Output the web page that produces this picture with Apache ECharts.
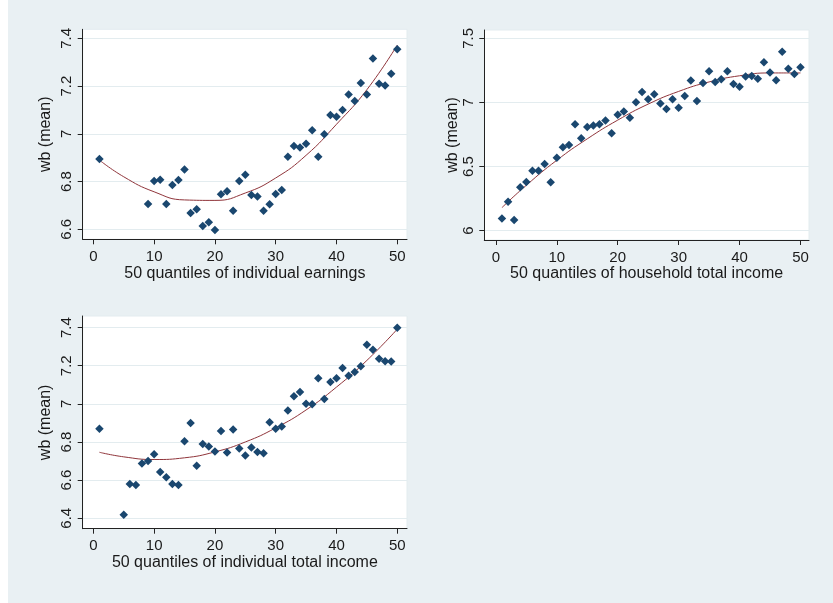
<!DOCTYPE html>
<html lang="en">
<head>
<meta charset="UTF-8">
<title>wb (mean) by quantiles</title>
<script src="https://cdn.jsdelivr.net/npm/echarts@6/dist/echarts.min.js"></script>
<style>
    html, body { margin: 0; padding: 0; background: #ffffff; }
    #main { position: absolute; left: 8px; top: 0; width: 825px; height: 603px; }
</style>
</head>
<body>
<div id="main"></div>
<script>
    // panel 1: individual earnings (quantiles 2-8 empty)
    var q1 = [1, 9, 10, 11, 12, 13, 14, 15, 16, 17, 18, 19, 20, 21, 22, 23, 24, 25, 26, 27, 28, 29,
        30, 31, 32, 33, 34, 35, 36, 37, 38, 39, 40, 41, 42, 43, 44, 45, 46, 47, 48, 49, 50];
    var wb1 = [6.895, 6.706, 6.802, 6.808, 6.706, 6.786, 6.807, 6.851, 6.668, 6.684, 6.614, 6.629,
        6.597, 6.747, 6.759, 6.678, 6.802, 6.829, 6.744, 6.737, 6.678, 6.705, 6.748, 6.765, 6.904,
        6.949, 6.943, 6.958, 7.015, 6.904, 6.998, 7.079, 7.072, 7.100, 7.165, 7.138, 7.213, 7.165,
        7.316, 7.210, 7.202, 7.252, 7.354];

    // panel 2: household total income
    var q2 = [1, 2, 3, 4, 5, 6, 7, 8, 9, 10, 11, 12, 13, 14, 15, 16, 17, 18, 19, 20, 21, 22, 23, 24,
        25, 26, 27, 28, 29, 30, 31, 32, 33, 34, 35, 36, 37, 38, 39, 40, 41, 42, 43, 44, 45, 46, 47,
        48, 49, 50];
    var wb2 = [6.094, 6.226, 6.083, 6.338, 6.380, 6.468, 6.468, 6.520, 6.377, 6.569, 6.650, 6.668,
        6.830, 6.720, 6.808, 6.820, 6.829, 6.860, 6.759, 6.903, 6.930, 6.880, 7.002, 7.081, 7.024,
        7.063, 6.992, 6.948, 7.024, 6.959, 7.050, 7.171, 7.011, 7.152, 7.243, 7.160, 7.181, 7.243,
        7.144, 7.122, 7.203, 7.206, 7.184, 7.313, 7.234, 7.174, 7.395, 7.262, 7.222, 7.274];

    // panel 3: individual total income (quantiles 2-4 empty)
    var q3 = [1, 5, 6, 7, 8, 9, 10, 11, 12, 13, 14, 15, 16, 17, 18, 19, 20, 21, 22, 23, 24, 25, 26,
        27, 28, 29, 30, 31, 32, 33, 34, 35, 36, 37, 38, 39, 40, 41, 42, 43, 44, 45, 46, 47, 48, 49, 50];
    var wb3 = [6.870, 6.418, 6.580, 6.574, 6.687, 6.700, 6.736, 6.642, 6.615, 6.580, 6.574, 6.804,
        6.899, 6.675, 6.790, 6.776, 6.750, 6.858, 6.745, 6.865, 6.766, 6.729, 6.771, 6.748, 6.741,
        6.903, 6.870, 6.881, 6.965, 7.040, 7.062, 7.000, 6.998, 7.135, 7.025, 7.115, 7.135, 7.188,
        7.147, 7.167, 7.197, 7.310, 7.284, 7.237, 7.223, 7.222, 7.400];

    // fitted curves
    var fitQ = [1, 5, 10, 15, 20, 25, 30, 35, 40, 45, 50];
    var fit1 = [6.890, 6.820, 6.757, 6.723, 6.721, 6.752, 6.815, 6.910, 7.040, 7.185, 7.372];
    var fit2 = [6.180, 6.354, 6.549, 6.716, 6.862, 6.987, 7.086, 7.160, 7.208, 7.230, 7.230];
    var fit3 = [6.746, 6.722, 6.708, 6.717, 6.748, 6.800, 6.874, 6.968, 7.088, 7.228, 7.392];

    var ticksX = [0, 10, 20, 30, 40, 50];
    var ticksY1 = [6.6, 6.8, 7, 7.2, 7.4];
    var ticksY2 = [6, 6.5, 7, 7.5];
    var ticksY3 = [6.4, 6.6, 6.8, 7, 7.2, 7.4];
    var xTitles = ['50 quantiles of individual earnings', '50 quantiles of household total income',
        '50 quantiles of individual total income'];

    var FONT = "'Liberation Sans', Arial, sans-serif";
    var INK = '#1a1a1a';
    var GRID_LINE = '#e3ecef';

    function pairs(xs, ys) {
        return xs.map(function (x, i) { return [x, ys[i]]; });
    }

    function xAxisFor(idx, min, max) {
        return {
            type: 'value', gridIndex: idx, min: min, max: max,
            name: xTitles[idx], nameLocation: 'middle', nameGap: 25,
            nameTextStyle: {fontFamily: FONT, fontSize: 16, color: INK},
            axisLine: {show: true, onZero: false, lineStyle: {color: '#222', width: 1}},
            axisTick: {show: true, length: 5, customValues: ticksX, lineStyle: {color: '#222'}},
            axisLabel: {customValues: ticksX, margin: 10, fontFamily: FONT, fontSize: 15, color: INK},
            splitLine: {show: false}
        };
    }

    function yAxisFor(idx, min, max, ticks, gap) {
        return {
            type: 'value', gridIndex: idx, min: min, max: max,
            name: 'wb (mean)', nameLocation: 'middle', nameGap: gap,
            nameTextStyle: {fontFamily: FONT, fontSize: 16, color: INK},
            axisLine: {show: true, onZero: false, lineStyle: {color: '#222', width: 1}},
            axisTick: {show: true, length: 5, customValues: ticks, lineStyle: {color: '#222'}},
            axisLabel: {customValues: ticks, rotate: 90, margin: 8, fontFamily: FONT, fontSize: 15, color: INK},
            splitLine: {show: true, lineStyle: {color: GRID_LINE, width: 1}}
        };
    }

    function dots(idx, xs, ys) {
        return {
            type: 'scatter', xAxisIndex: idx, yAxisIndex: idx, data: pairs(xs, ys),
            symbol: 'diamond', symbolSize: 8.5, itemStyle: {color: '#1a476f', opacity: 1}, z: 3
        };
    }

    function fitLine(idx, ys) {
        return {
            type: 'line', xAxisIndex: idx, yAxisIndex: idx, data: pairs(fitQ, ys),
            smooth: true, showSymbol: false, lineStyle: {color: '#90353b', width: 1}, z: 2
        };
    }

    var myChart = echarts.init(document.getElementById('main'));

    var option = {
        animation: false,
        backgroundColor: '#e9f0f3',
        grid: [
            {left: 74.7, top: 29.3, width: 324.3, height: 210, show: true,
                backgroundColor: '#ffffff', borderColor: '#e3ecef', borderWidth: 1},
            {left: 476.3, top: 30, width: 324.7, height: 210, show: true,
                backgroundColor: '#ffffff', borderColor: '#e3ecef', borderWidth: 1},
            {left: 74.7, top: 316, width: 324.3, height: 212.7, show: true,
                backgroundColor: '#ffffff', borderColor: '#e3ecef', borderWidth: 1}
        ],
        xAxis: [
            xAxisFor(0, -1.75, 51.6),
            xAxisFor(1, -1.9, 51.4),
            xAxisFor(2, -1.75, 51.6)
        ],
        yAxis: [
            yAxisFor(0, 6.558, 7.438, ticksY1, 29),
            yAxisFor(1, 5.927, 7.565, ticksY2, 21),
            yAxisFor(2, 6.345, 7.461, ticksY3, 29)
        ],
        series: [
            fitLine(0, fit1), dots(0, q1, wb1),
            fitLine(1, fit2), dots(1, q2, wb2),
            fitLine(2, fit3), dots(2, q3, wb3)
        ]
    };

    myChart.setOption(option);
</script>
</body>
</html>
